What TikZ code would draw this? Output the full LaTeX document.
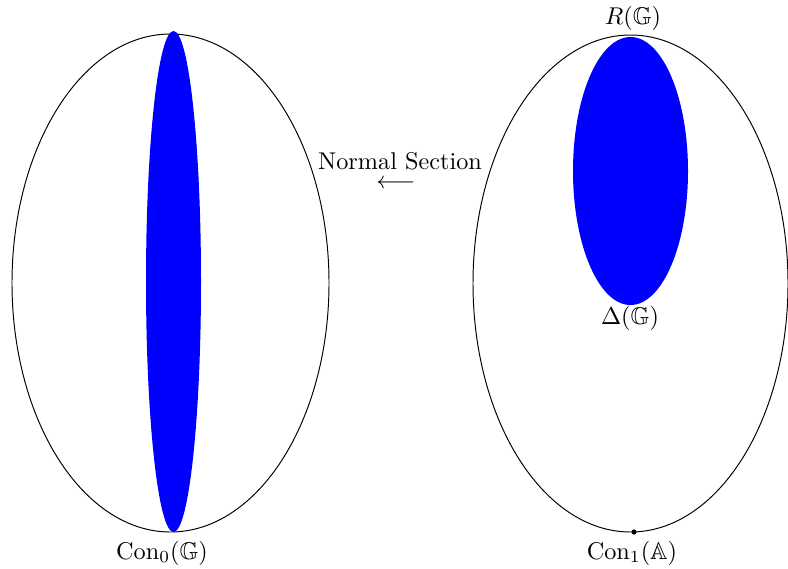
\documentclass[tikz,border=0pt]{standalone}
\usepackage{amssymb}
\begin{document}
\begin{tikzpicture}[x=0.4125pt,y=-0.4125pt,
  outline/.style={draw=black,line width=0.4pt},
  region/.style={fill=blue,draw=none},
  lbl/.style={inner sep=0pt}]
\useasboundingbox (0,0) rectangle (788,568);
% left
\draw[outline] (170.5,283) ellipse [x radius=158.5, y radius=249];
\fill[region] (173.5,281.5) ellipse [x radius=27.5, y radius=250.5];
\node[lbl] (con0) at (162,553) {$\mathrm{Con}_0(\mathbb{G})$};
% right
\draw[outline] (630.5,283.5) ellipse [x radius=157.5, y radius=248.5];
\fill[region] (630.5,171) ellipse [x radius=57.5, y radius=134];
\fill (634,532) circle [radius=2.6];
\node[lbl] (R) at (633,18) {$R(\mathbb{G})$};
\node[lbl] (D) at (630,318) {$\Delta(\mathbb{G})$};
\node[lbl] (con1) at (632,553) {$\mathrm{Con}_1(\mathbb{A})$};
% middle
\node[lbl] (ns) at (400,161) {Normal Section};
\node[lbl,anchor=base] (arr) at (396,188) {$\smash{\longleftarrow}$};
\end{tikzpicture}
\end{document}
